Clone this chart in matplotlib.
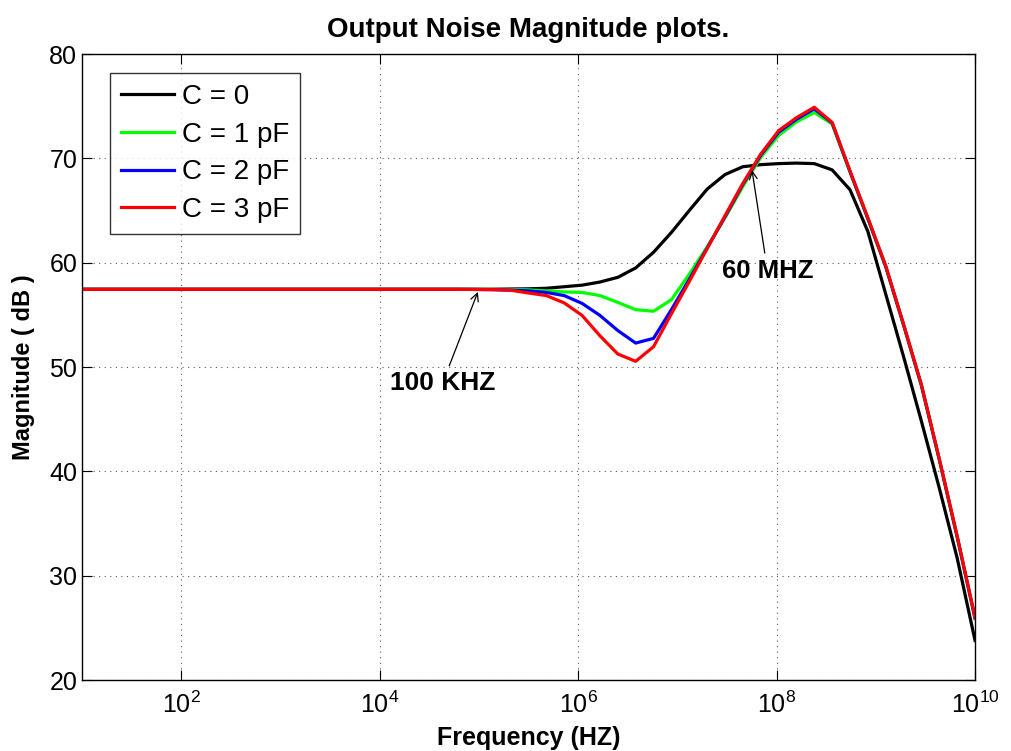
import matplotlib
matplotlib.use("Agg")
import matplotlib.pyplot as plt
import numpy as np
from matplotlib.ticker import FixedLocator, FixedFormatter, NullLocator

plt.rcParams["font.family"] = ["Liberation Sans", "DejaVu Sans"]
plt.rcParams["mathtext.fontset"] = "custom"
plt.rcParams["mathtext.rm"] = "Liberation Sans"

# frequency grid: 51 points, 10 Hz .. 10 GHz
freq = np.logspace(1, 10, 51)

flat = [57.45] * 22
mag_c0 = flat + [57.45, 57.46, 57.48, 57.5, 57.55, 57.7, 57.85, 58.15, 58.6, 59.5,
                 61.0, 62.9, 65.0, 67.05, 68.45, 69.2, 69.4, 69.5, 69.55, 69.5,
                 68.9, 67.0, 63.0, 57.0, 51.0, 44.8, 38.4, 31.7, 23.8]
mag_c1 = flat + [57.45, 57.44, 57.43, 57.4, 57.3, 57.2, 57.15, 56.85, 56.2, 55.5,
                 55.35, 56.45, 58.9, 61.5, 64.3, 67.3, 70.1, 72.2, 73.5, 74.4,
                 73.3, 68.7, 64.2, 59.6, 54.0, 48.2, 41.1, 33.7, 25.9]
mag_c2 = flat + [57.44, 57.42, 57.38, 57.3, 57.15, 56.85, 56.1, 54.95, 53.5, 52.3,
                 52.75, 55.5, 58.4, 61.4, 64.4, 67.5, 70.3, 72.5, 73.75, 74.75,
                 73.4, 68.75, 64.25, 59.65, 54.05, 48.25, 41.15, 33.75, 25.95]
mag_c3 = flat + [57.44, 57.42, 57.36, 57.1, 56.85, 56.15, 54.95, 53.0, 51.25, 50.55,
                 51.95, 55.1, 58.2, 61.35, 64.5, 67.6, 70.4, 72.65, 73.9, 74.9,
                 73.45, 68.8, 64.3, 59.7, 54.1, 48.3, 41.2, 33.8, 26.0]

labels = ["C = 0", "C = 1 pF", "C = 2 pF", "C = 3 pF"]
colors = ["#000000", "#00ff00", "#0000ff", "#ff0000"]

fig = plt.figure(figsize=(10.11, 7.51), dpi=100)
ax = fig.add_axes([0.0811, 0.0945, 0.8833, 0.8335])

for mag, lab, col in zip([mag_c0, mag_c1, mag_c2, mag_c3], labels, colors):
    ax.semilogx(freq, mag, color=col, lw=2.3, label=lab)

ax.set_xlim(10, 1e10)
ax.set_ylim(20, 80)
xt = [1e2, 1e4, 1e6, 1e8, 1e10]
ax.xaxis.set_major_locator(FixedLocator(xt))
ax.xaxis.set_major_formatter(FixedFormatter([r"$\mathregular{10^{%d}}$" % p for p in (2, 4, 6, 8, 10)]))
ax.xaxis.set_minor_locator(NullLocator())
ax.set_yticks(range(20, 81, 10))
ax.tick_params(direction="in", length=7, width=0.8, labelsize=18, top=True, right=True)
ax.tick_params(axis="x", pad=8)
for s in ax.spines.values():
    s.set_linewidth(1.0)

ax.grid(True, color="0.35", lw=0.8, linestyle=(0, (1, 4)))

ax.set_title("Output Noise Magnitude plots.", fontsize=20, fontweight="bold", pad=12)
ax.set_xlabel("Frequency (HZ)", fontsize=18, fontweight="bold", labelpad=6)
ax.set_ylabel("Magnitude ( dB )", fontsize=17, fontweight="bold", labelpad=10)

leg = ax.legend(loc="upper left", bbox_to_anchor=(0.031, 0.97), borderaxespad=0,
                fontsize=20, frameon=True, fancybox=False, handlelength=1.9,
                handletextpad=0.3, labelspacing=0.42, borderpad=0.4)
leg.get_frame().set_edgecolor("black")
leg.get_frame().set_linewidth(1.0)

arrow_kw = dict(arrowstyle="->", color="black", lw=0.9, mutation_scale=14)
ax.annotate("100 KHZ", xy=(1e5, 57.45), xytext=(4.3e4, 49.6),
            fontsize=19, fontweight="bold", ha="center", va="top", arrowprops=arrow_kw)
ax.annotate("60 MHZ", xy=(5.6e7, 69.14), xytext=(8.1e7, 60.4),
            fontsize=18.5, fontweight="bold", ha="center", va="top", arrowprops=arrow_kw)

fig.savefig("out.png", dpi=100, facecolor="white")
